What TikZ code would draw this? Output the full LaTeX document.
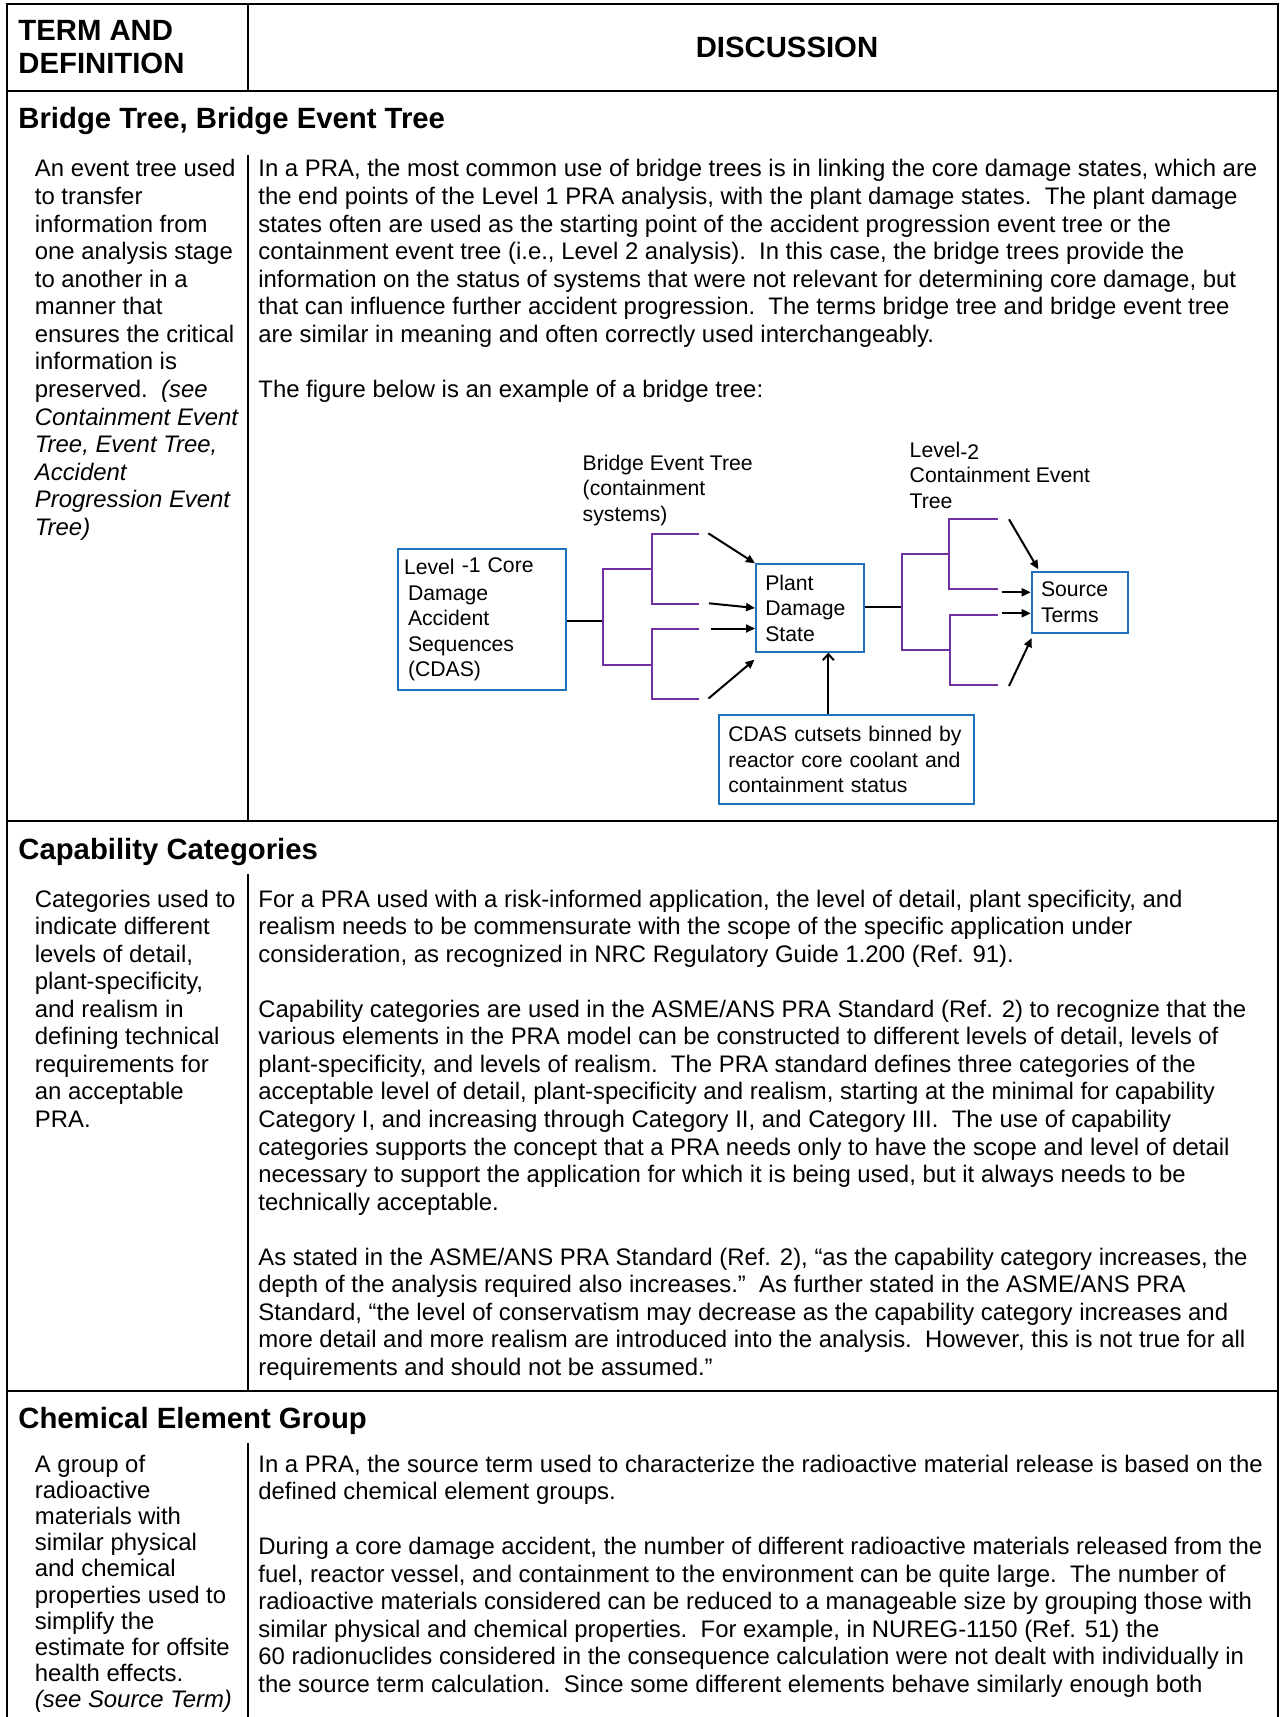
\documentclass[tikz,border=0pt]{standalone}
\usepackage{fontspec}
\setmainfont{Liberation Sans}
\usetikzlibrary{arrows.meta,calc}

\definecolor{boxblue}{RGB}{30,115,190}
\definecolor{treepurple}{RGB}{112,48,160}

% type sizes
\newcommand{\bodysize}{\fontsize{11.95pt}{13.78pt}\selectfont}
\newcommand{\tightsize}{\fontsize{11.95pt}{13.1pt}\selectfont}
\newcommand{\headsize}{\fontsize{14.65pt}{16.5pt}\selectfont\bfseries}
\newcommand{\figsize}{\fontsize{10.6pt}{12.75pt}\selectfont}
% a block of hand-broken lines, baseline on its first line
\newcommand{\colpar}[1]{\parbox[t]{600pt}{\raggedright #1}}

\begin{document}
\begin{tikzpicture}[x=0.5pt,y=-0.5pt,
  tablerule/.style={line width=1.1pt},
  headtext/.style={anchor=base west, inner sep=0pt, font=\headsize},
  bodytext/.style={anchor=base west, inner sep=0pt, font=\bodysize},
  tighttext/.style={anchor=base west, inner sep=0pt, font=\tightsize},
  figbox/.style={draw=boxblue, line width=1pt, anchor=north west, align=left,
                 inner ysep=0pt, font=\figsize},
  figlabel/.style={anchor=base west, inner sep=0pt, font=\figsize},
  treeline/.style={draw=treepurple, line width=1pt},
  linkline/.style={draw=black, line width=1pt},
  arrowline/.style={draw=black, line width=1pt, -{Triangle[length=4.5pt,width=4pt]}},
  openarrow/.style={draw=black, line width=1pt, -{Straight Barb[length=3pt,width=5.5pt]}},
]
\useasboundingbox (0,0) rectangle (1280,1717);

% ---------- table rules ----------
\draw[tablerule] (7,1717) -- (7,4) -- (1278,4) -- (1278,1717);
\draw[tablerule] (7,91) -- (1278,91);
\draw[tablerule] (248,4) -- (248,91);
\draw[tablerule] (7,821) -- (1278,821);
\draw[tablerule] (7,1391) -- (1278,1391);
\draw[tablerule] (248,155) -- (248,821);
\draw[tablerule] (248,874) -- (248,1391);
\draw[tablerule] (248,1443) -- (248,1717);

% ---------- header ----------
\node[headtext] (hterm) at (18,40.5) {\colpar{TERM AND\\DEFINITION}};
\node[anchor=base, inner sep=0pt, font=\headsize] (hdisc) at (787,58) {DISCUSSION};

% ---------- entry: bridge tree ----------
\node[headtext] (t1) at (18,129) {Bridge Tree, Bridge Event Tree};
\node[bodytext] (d1) at (34.5,177) {\colpar{%
An event tree used\\
to transfer\\
information from\\
one analysis stage\\
to another in a\\
manner that\\
ensures the critical\\
information is\\
preserved.\ \ \textit{(see}\\
\textit{Containment Event}\\
\textit{Tree, Event Tree,}\\
\textit{Accident}\\
\textit{Progression Event}\\
\textit{Tree)}}};
\node[bodytext] (x1) at (258,177) {\colpar{%
In a PRA, the most common use of bridge trees is in linking the core damage states, which are\\
the end points of the Level 1 PRA analysis, with the plant damage states.\ \ The plant damage\\
states often are used as the starting point of the accident progression event tree or the\\
containment event tree (i.e., Level 2 analysis).\ \ In this case, the bridge trees provide the\\
information on the status of systems that were not relevant for determining core damage, but\\
that can influence further accident progression.\ \ The terms bridge tree and bridge event tree\\
are similar in meaning and often correctly used interchangeably.\\[\baselineskip]
The figure below is an example of a bridge tree:}};

% ---------- bridge tree figure ----------
\node[figbox, minimum height=70.35pt, inner xsep=2.85pt, text width=78.15pt] (l1box) at (397.3,548.3)
  {Level \raisebox{1pt}{-1~Core}\\\hspace*{2pt}Damage\\\hspace*{2pt}Accident\\\hspace*{2pt}Sequences\\\hspace*{2pt}(CDAS)};
\node[figbox, minimum height=43.7pt, inner xsep=4.65pt, text width=44.85pt] (pds) at (755,563.3)
  {Plant\\Damage\\State};
\node[figbox, minimum height=44.2pt, inner xsep=4.5pt, text width=118.2pt] (cuts) at (718.3,714.3)
  {CDAS~cutsets~binned~by\\reactor~core~coolant~and\\containment~status};
\node[figbox, minimum height=30.5pt, inner xsep=4.65pt, text width=38.7pt] (srcterm) at (1030.7,570.7)
  {Source\\Terms};

\node[figlabel] (betlabel) at (582.3,470) {\parbox[t]{120pt}{Bridge Event Tree\\(containment\\systems)}};
\node[figlabel] (cetlabel) at (909.3,457) {\parbox[t]{120pt}{Level\raisebox{-1.5pt}{-2}\\Containment Event\\Tree}};

% bridge event tree
\coordinate (t1root) at (603,621);
\draw[linkline] (l1box.east |- t1root) -- (t1root);
\draw[treeline] (652,569) -- (603,569) |- (652,665);
\draw[treeline] (699.3,534.3) -| (652,603.5) -- (699.3,603.5);
\draw[treeline] (699.3,629) -| (652,698.7) -- (699.3,698.7);

\coordinate (a1s) at (708.3,533.3);
\coordinate (a2s) at (709,603.3);
\coordinate (a3s) at (710.7,628.5);
\coordinate (a4s) at (708.5,698.5);
\draw[arrowline] (a1s) -- (pds.north west);
\draw[arrowline] (a2s) -- (pds.west);
\draw[arrowline] (a3s) -- (pds.west |- a3s);
\draw[arrowline] (a4s) -- ($(pds.south west)+(-0.5,7)$);
\draw[openarrow] ([xshift=-9.1pt]cuts.north) -- ([xshift=-9.1pt]cuts.north |- pds.south);

% containment event tree
\coordinate (t2root) at (901.7,606.7);
\draw[linkline] (pds.east |- t2root) -- (t2root);
\draw[treeline] (949.3,554) -- (901.7,554) |- (950,650);
\draw[treeline] (997.7,519.3) -| (949.3,589) -- (997.7,589);
\draw[treeline] (997.7,614.5) -| (950,685) -- (997.7,685);

\coordinate (b1s) at (1009,519.3);
\coordinate (b2s) at (1001.7,592.3);
\coordinate (b3s) at (1001.7,613.3);
\coordinate (b4s) at (1009,686);
\draw[arrowline] (b1s) -- ($(srcterm.north west)+(7.6,-1.4)$);
\draw[arrowline] (b2s) -- (srcterm.west |- b2s);
\draw[arrowline] (b3s) -- (srcterm.west |- b3s);
\draw[arrowline] (b4s) -- ($(srcterm.south west)+(1,4.3)$);

% ---------- entry: capability categories ----------
\node[headtext] (t2) at (18,859) {Capability Categories};
\node[bodytext] (d2) at (34.5,907) {\colpar{%
Categories used to\\
indicate different\\
levels of detail,\\
plant-specificity,\\
and realism in\\
defining technical\\
requirements for\\
an acceptable\\
PRA.}};
\node[bodytext] (x2) at (258,907) {\colpar{%
For a PRA used with a risk-informed application, the level of detail, plant specificity, and\\
realism needs to be commensurate with the scope of the specific application under\\
consideration, as recognized in NRC Regulatory Guide 1.200 (Ref. 91).\\[\baselineskip]
Capability categories are used in the ASME/ANS PRA Standard (Ref. 2) to recognize that the\\
various elements in the PRA model can be constructed to different levels of detail, levels of\\
plant-specificity, and levels of realism.\ \ The PRA standard defines three categories of the\\
acceptable level of detail, plant-specificity and realism, starting at the minimal for capability\\
Category I, and increasing through Category II, and Category III.\ \ The use of capability\\
categories supports the concept that a PRA needs only to have the scope and level of detail\\
necessary to support the application for which it is being used, but it always needs to be\\
technically acceptable.\\[\baselineskip]
As stated in the ASME/ANS PRA Standard (Ref. 2), “as the capability category increases, the\\
depth of the analysis required also increases.”\ \ As further stated in the ASME/ANS PRA\\
Standard, “the level of conservatism may decrease as the capability category increases and\\
more detail and more realism are introduced into the analysis.\ \ However, this is not true for all\\
requirements and should not be assumed.”}};

% ---------- entry: chemical element group ----------
\node[headtext] (t3) at (18,1428) {Chemical Element Group};
\node[tighttext] (d3) at (34.5,1472) {\colpar{%
A group of\\
radioactive\\
materials with\\
similar physical\\
and chemical\\
properties used to\\
simplify the\\
estimate for offsite\\
health effects.\\
\textit{(see Source Term)}}};
\node[bodytext] (x3) at (258,1472) {\colpar{%
In a PRA, the source term used to characterize the radioactive material release is based on the\\
defined chemical element groups.\\[\baselineskip]
During a core damage accident, the number of different radioactive materials released from the\\
fuel, reactor vessel, and containment to the environment can be quite large.\ \ The number of\\
radioactive materials considered can be reduced to a manageable size by grouping those with\\
similar physical and chemical properties.\ \ For example, in NUREG-1150 (Ref. 51) the\\
60 radionuclides considered in the consequence calculation were not dealt with individually in\\
the source term calculation.\ \ Since some different elements behave similarly enough both}};

\end{tikzpicture}
\end{document}
